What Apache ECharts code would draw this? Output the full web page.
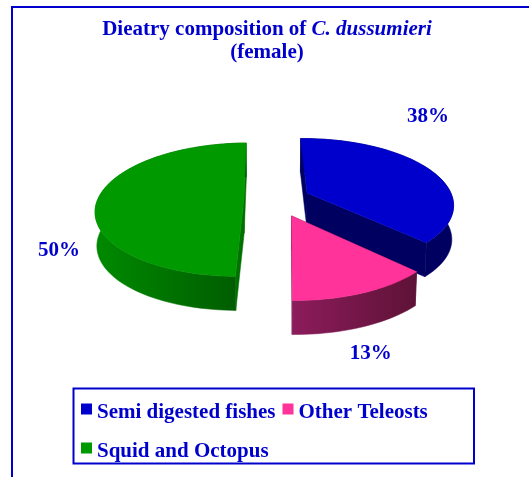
<!DOCTYPE html>
<html><head><meta charset="utf-8">
<script src="https://cdn.jsdelivr.net/npm/echarts@6/dist/echarts.min.js"></script>
<style>html,body{margin:0;padding:0;background:#fff}#c{width:529px;height:477px}</style>
</head><body><div id="c"></div>
<script>
const categories = ['Semi digested fishes', 'Other Teleosts', 'Squid and Octopus'];
const values = [38, 13, 50];
const topColors = ['#0000CC', '#FF3399', '#009900'];
const wallLeft = ['#000060', '#8C1C5C', '#008A00'];
const wallRight = ['#000060', '#5E1236', '#005A00'];
const faceColors = ['#000060', '#7A1A4C', '#007000'];
const explode = [0.235, 0.27, 0.22];
const labelOffset = [[121, -76], [79, 138], [-185, 52]];

const INK = '#0000CC', FONT = '"Liberation Serif","Times New Roman",serif';
const P = {cx: 276, cy: 199, B: 146, A: 65, k: 0.16, depth: 34, shrink: 0.01, start: -1};
const total = values.reduce((a, b) => a + b, 0);
const rad = d => d * Math.PI / 180;
function project(wx, wv, z) {
  const d = 1 - P.k * wv;
  return [P.cx + P.B * wx / d * (1 - P.shrink * z), P.cy + P.A * wv / d + P.depth * z];
}
function sliceAngles(i) {
  let before = 0;
  for (let j = 0; j < i; j++) before += values[j];
  return [P.start + before / total * 360, P.start + (before + values[i]) / total * 360];
}
function renderSlice(i, val) {
  const [a0, a1] = sliceAngles(i), mid = rad((a0 + a1) / 2);
  const ox = explode[i] * Math.sin(mid), ov = -explode[i] * Math.cos(mid);
  const rim = z => {
    const pts = [];
    for (let a = a0; a < a1; a += 2) pts.push(project(ox + Math.sin(rad(a)), ov - Math.cos(rad(a)), z));
    pts.push(project(ox + Math.sin(rad(a1)), ov - Math.cos(rad(a1)), z));
    return pts;
  };
  const top = rim(0), bot = rim(1), apex = project(ox, ov, 0), apexB = project(ox, ov, 1);
  const wall = top.concat(bot.slice().reverse());
  const xs = wall.map(p => p[0]);
  const fill = {type: 'linear', global: true, x: Math.min(...xs), y: 0, x2: Math.max(...xs), y2: 0,
    colorStops: [{offset: 0, color: wallLeft[i]}, {offset: 1, color: wallRight[i]}]};
  const poly = (points, f) => ({type: 'polygon', shape: {points}, style: {fill: f, stroke: f, lineWidth: 0.5}});
  return {type: 'group', children: [
    poly([apex, top[0], bot[0], apexB], faceColors[i]),
    poly([apex, top[top.length - 1], bot[bot.length - 1], apexB], faceColors[i]),
    poly(wall, fill),
    poly([apex].concat(top), topColors[i]),
    {type: 'text', x: apex[0] + labelOffset[i][0], y: apex[1] + labelOffset[i][1],
      style: {text: val + '%', fill: INK, font: 'bold 21px ' + FONT, align: 'center', verticalAlign: 'middle'}}
  ]};
}
const chart = echarts.init(document.getElementById('c'), null, {renderer: 'canvas'});
chart.setOption({
  animation: false,
  backgroundColor: '#fff',
  title: {
    left: 262, top: 13, textAlign: 'center',
    text: '{a|Dieatry composition of }{b|C. dussumieri}\n{a|(female)}',
    textStyle: {rich: {
      a: {fontFamily: FONT, fontWeight: 'bold', fontSize: 21, color: INK, lineHeight: 23},
      b: {fontFamily: FONT, fontWeight: 'bold', fontStyle: 'italic', fontSize: 21, color: INK, lineHeight: 23}
    }}
  },
  legend: {
    left: 81, top: 393, orient: 'horizontal', width: 385,
    data: categories, icon: 'rect', itemWidth: 11, itemHeight: 11, itemGap: 7,
    padding: 0, selectedMode: false,
    formatter: n => '{t|' + n + '}',
    textStyle: {rich: {t: {fontFamily: FONT, fontWeight: 'bold', fontSize: 21, color: INK, height: 24, lineHeight: 24, padding: [8, 0, 0, 0]}}}
  },
  graphic: [
    {type: 'line', shape: {x1: 12, y1: 6, x2: 12, y2: 477}, style: {stroke: INK, lineWidth: 2}},
    {type: 'line', shape: {x1: 11, y1: 7, x2: 529, y2: 7}, style: {stroke: INK, lineWidth: 2}},
    {type: 'rect', shape: {x: 73.5, y: 388.5, width: 400.5, height: 75}, style: {fill: 'none', stroke: INK, lineWidth: 2}}
  ],
  series: categories.map((name, i) => ({
    type: 'custom', name, coordinateSystem: 'none', silent: true,
    itemStyle: {color: topColors[i]},
    z: i === 1 ? 3 : 2,
    data: [values[i]],
    renderItem: (params, api) => renderSlice(i, api.value(0))
  }))
});
</script></body></html>
